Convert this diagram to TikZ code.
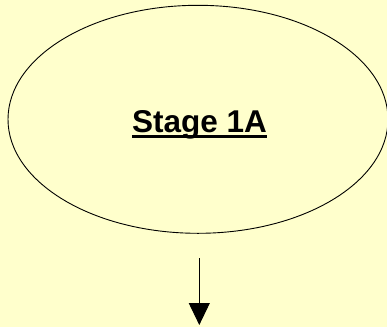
\documentclass[tikz,border=0pt]{standalone}
\usepackage{fontspec}
\setmainfont{Liberation Sans}
\usetikzlibrary{shapes.geometric,arrows.meta}
\definecolor{bgyellow}{HTML}{FFFFCC}
\newcommand{\thickul}[1]{\setbox0\hbox{#1}\rlap{\rule[-6pt]{\wd0}{3.5pt}}\box0}
\tikzset{
  stagebox/.style={ellipse, draw=black, line width=0.9pt, fill=bgyellow,
    minimum width=380pt, minimum height=228pt, inner sep=0pt,
    text height=32pt, text depth=6.6pt,
    font=\fontsize{31.5pt}{36pt}\selectfont\bfseries},
  flowarrow/.style={draw=black, line width=1pt, -{Triangle[length=22pt,width=21pt]}}
}
\begin{document}
\begin{tikzpicture}[x=1pt,y=1pt]
  \useasboundingbox (0,0) rectangle (387,-327);
  \fill[bgyellow] (0,0) rectangle (387,-327);
  \node[stagebox] (s1a) at (198,-119.3) {\hspace*{3pt}\thickul{Stage 1A}};
  \coordinate (astart) at (199.3,-258);
  \coordinate (aend) at (199.3,-325);
  \draw[flowarrow] (astart) -- (aend);
\end{tikzpicture}
\end{document}
